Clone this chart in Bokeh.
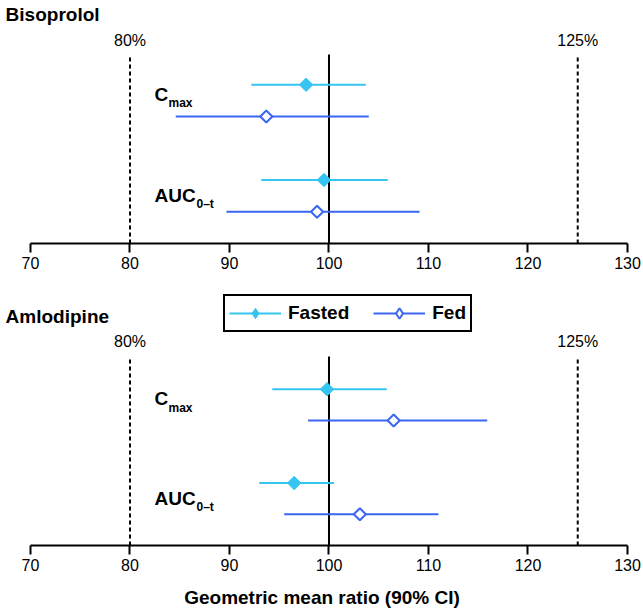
import numpy as np
from bokeh.plotting import figure
from bokeh.models import Range1d, FixedTicker, Legend, LegendItem
from bokeh.layouts import column
from bokeh.core.properties import value
from bokeh.embed import file_html
from bokeh.resources import INLINE

# ---------------- data ----------------
metrics = ["Cmax", "AUC0-t"]
ticks = [70, 80, 90, 100, 110, 120, 130]
limits = [80, 125]
limit_labels = ["80%", "125%"]
reference = [100]

# Bisoprolol (Cmax, AUC0-t)
bis_fasted = [97.7, 99.5]
bis_fasted_lo = [92.2, 93.2]
bis_fasted_hi = [103.7, 105.9]
bis_fed = [93.7, 98.8]
bis_fed_lo = [84.6, 89.7]
bis_fed_hi = [104.0, 109.1]

# Amlodipine (Cmax, AUC0-t)
aml_fasted = [99.8, 96.5]
aml_fasted_lo = [94.3, 93.0]
aml_fasted_hi = [105.8, 100.5]
aml_fed = [106.5, 103.1]
aml_fed_lo = [97.9, 95.5]
aml_fed_hi = [115.9, 111.0]

# row positions (Cmax rows on top, AUC rows lower)
fasted_rows = [4, 1]
fed_rows = [3, 0]

FONT = "Liberation Sans"
FASTED_COLOR = "#35C5F0"
FED_COLOR = "#3A66F2"
X_RANGE = (66.985, 131.61)
TITLE_X = 67.5
LABEL_X = 82.46


def make_panel(drug, fa, fa_lo, fa_hi, fe, fe_lo, fe_hi, height, bottom_border,
               y_top, title_y, pct_y, dash_top, show_legend=False, xlabel=None):
    p = figure(width=643, height=height,
               x_range=Range1d(*X_RANGE), y_range=Range1d(-1, y_top),
               output_backend="svg", toolbar_location=None,
               y_axis_location=None,
               min_border_left=0, min_border_right=0, min_border_top=0,
               min_border_bottom=bottom_border)
    p.grid.visible = False
    p.outline_line_color = None
    p.background_fill_color = "white"
    p.border_fill_color = "white"

    ax = p.xaxis[0]
    ax.bounds = (ticks[0], ticks[-1])
    ax.ticker = FixedTicker(ticks=ticks)
    ax.minor_tick_line_color = None
    ax.major_tick_out = 9
    ax.major_tick_in = 0
    ax.axis_line_width = 2
    ax.axis_line_color = "black"
    ax.major_tick_line_width = 2
    ax.major_tick_line_color = "black"
    ax.major_label_text_font = FONT
    ax.major_label_text_font_size = "16px"
    ax.major_label_text_color = "black"
    ax.major_label_standoff = 4
    if xlabel:
        ax.axis_label = xlabel
        ax.axis_label_text_font = FONT
        ax.axis_label_text_font_size = "19px"
        ax.axis_label_text_font_style = "bold"
        ax.axis_label_text_color = "black"
        ax.axis_label_standoff = 13

    # reference lines
    p.segment(x0=limits, y0=[-1] * len(limits), x1=limits, y1=[dash_top] * len(limits),
              line_color="black", line_width=2, line_dash="4 3")
    p.segment(x0=reference, y0=[-1], x1=reference, y1=[dash_top],
              line_color="black", line_width=2)

    # error bars and points
    seg_fa = p.segment(x0=fa_lo, y0=fasted_rows, x1=fa_hi, y1=fasted_rows,
                       line_color=FASTED_COLOR, line_width=2)
    seg_fe = p.segment(x0=fe_lo, y0=fed_rows, x1=fe_hi, y1=fed_rows,
                       line_color=FED_COLOR, line_width=2)
    p.scatter(x=fa, y=fasted_rows, marker="square", angle=np.pi / 4, size=9.5,
              fill_color=FASTED_COLOR, line_color=FASTED_COLOR, line_width=1)
    p.scatter(x=fe, y=fed_rows, marker="square", angle=np.pi / 4, size=8.5,
              fill_color="white", line_color=FED_COLOR, line_width=2)

    # texts
    p.text(x=limits, y=[pct_y] * len(limits), text=limit_labels,
           text_font=value(FONT), text_font_size="16px", text_color="black",
           text_align="center", text_baseline="middle")
    p.text(x=[TITLE_X], y=[title_y], text=[drug],
           text_font=value(FONT), text_font_size="19px", text_font_style="bold",
           text_color="black", text_align="left", text_baseline="middle")

    label_y = [3.7, 0.52]
    p.text(x=[LABEL_X], y=[label_y[0]], text=["C"],
           text_font=value(FONT), text_font_size="19px", text_font_style="bold",
           text_color="black", text_align="left", text_baseline="middle")
    p.text(x=[LABEL_X], y=[label_y[0]], text=["max"], x_offset=14, y_offset=9,
           text_font=value(FONT), text_font_size="12px", text_font_style="bold",
           text_color="black", text_align="left", text_baseline="middle")
    p.text(x=[LABEL_X], y=[label_y[1]], text=["AUC"],
           text_font=value(FONT), text_font_size="19px", text_font_style="bold",
           text_color="black", text_align="left", text_baseline="middle")
    p.text(x=[LABEL_X], y=[label_y[1]], text=["0\u2013t"], x_offset=42, y_offset=9,
           text_font=value(FONT), text_font_size="12px", text_font_style="bold",
           text_color="black", text_align="left", text_baseline="middle")

    if show_legend:
        # legend-only diamond keys (legend glyphs ignore marker angle);
        # y is NaN so they are not drawn in the plot area
        hidden = [np.nan] * len(fa)
        key_fa = p.scatter(x=fa, y=hidden, marker="diamond",
                           fill_color=FASTED_COLOR, line_color=FASTED_COLOR, line_width=1)
        key_fe = p.scatter(x=fe, y=hidden, marker="diamond",
                           fill_color="white", line_color=FED_COLOR, line_width=2)
        legend = Legend(items=[LegendItem(label="Fasted", renderers=[seg_fa, key_fa]),
                               LegendItem(label="Fed", renderers=[seg_fe, key_fe])],
                        orientation="horizontal", location=(223, 213))
        legend.border_line_color = "black"
        legend.border_line_alpha = 1
        legend.border_line_width = 2
        legend.background_fill_color = "white"
        legend.background_fill_alpha = 1
        legend.padding = 4
        legend.spacing = 24
        legend.margin = 0
        legend.label_standoff = 7
        legend.glyph_width = 52
        legend.glyph_height = 26
        legend.label_height = 20
        legend.label_text_font = FONT
        legend.label_text_font_size = "19px"
        legend.label_text_font_style = "bold"
        legend.label_text_color = "black"
        p.add_layout(legend)
    return p


top = make_panel("Bisoprolol", bis_fasted, bis_fasted_lo, bis_fasted_hi,
                 bis_fed, bis_fed_lo, bis_fed_hi,
                 height=280, bottom_border=37, y_top=6.654,
                 title_y=6.21, pct_y=5.39, dash_top=4.95)
bottom = make_panel("Amlodipine", aml_fasted, aml_fasted_lo, aml_fasted_hi,
                    aml_fed, aml_fed_lo, aml_fed_hi,
                    height=330, bottom_border=65, y_top=7.48,
                    title_y=6.33, pct_y=5.54, dash_top=5.05,
                    show_legend=True, xlabel="Geometric mean ratio (90% CI)")

layout = column(top, bottom, spacing=0)
open("out.html", "w").write(file_html(layout, INLINE))
